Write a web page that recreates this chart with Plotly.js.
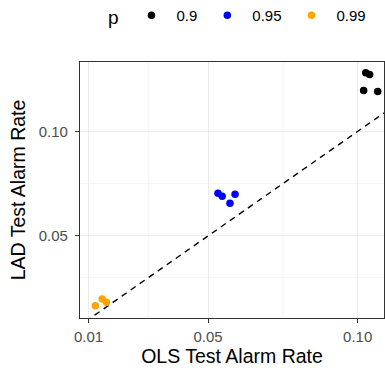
<!DOCTYPE html>
<html>
<head>
<meta charset="utf-8">
<script src="https://cdn.plot.ly/plotly-3.0.1.min.js"></script>
<style>html,body{margin:0;padding:0;background:#fff;}#chart{width:385px;height:368px;}</style>
</head>
<body>
<div id="chart"></div>
<script>
// Data
const groups = ["0.9", "0.95", "0.99"];
const colors = ["#000000", "#0000FF", "#FFA500"];
const olsP90 = [0.1027, 0.1040, 0.1020, 0.1067];
const ladP90 = [0.1280, 0.1272, 0.1196, 0.1191];
const olsP95 = [0.0533, 0.0547, 0.0573, 0.0590];
const ladP95 = [0.0704, 0.0690, 0.0656, 0.0699];
const olsP99 = [0.0123, 0.0146, 0.0160];
const ladP99 = [0.0166, 0.0198, 0.0182];
const refLineX = [0, 0.2];
const refLineY = [0, 0.2];
const xTicks = [0.01, 0.05, 0.10];
const xTickText = ["0.01", "0.05", "0.10"];
const yTicks = [0.05, 0.10];
const yTickText = ["0.05", "0.10"];
const xMinor = [0.03, 0.075];
const yMinor = [0.03, 0.075];

const xs = [olsP90, olsP95, olsP99];
const ys = [ladP90, ladP95, ladP99];

const traces = [{
  x: refLineX, y: refLineY, mode: "lines", type: "scatter",
  line: {color: "#000", width: 1.4, dash: "6px,5px"},
  showlegend: false, hoverinfo: "skip"
}];
groups.forEach((g, i) => {
  traces.push({
    x: xs[i], y: ys[i], mode: "markers", type: "scatter", name: g,
    marker: {color: colors[i], size: 7.5}
  });
});

const font = "Liberation Sans, Arial, Helvetica, sans-serif";
const gridShapes = [];
xMinor.forEach(v => gridShapes.push({type: "line", xref: "x", yref: "paper", x0: v, x1: v, y0: 0, y1: 1, line: {color: "#EBEBEB", width: 0.6}, layer: "below"}));
yMinor.forEach(v => gridShapes.push({type: "line", xref: "paper", yref: "y", x0: 0, x1: 1, y0: v, y1: v, line: {color: "#EBEBEB", width: 0.6}, layer: "below"}));

const layout = {
  width: 385, height: 368,
  margin: {l: 80, r: 1, t: 62, b: 50},
  paper_bgcolor: "#fff", plot_bgcolor: "#fff",
  font: {family: font, color: "#000"},
  showlegend: true,
  legend: {
    orientation: "h", xref: "container", yref: "container",
    x: 0.275, xanchor: "left", y: 0.955, yanchor: "middle",
    title: {text: "p", font: {size: 19, color: "#000"}, side: "left"},
    font: {size: 15, color: "#000"},
    itemwidth: 40
  },
  xaxis: {
    range: [0.00717, 0.1088], tickvals: xTicks, ticktext: xTickText,
    showgrid: true, gridcolor: "#EBEBEB", gridwidth: 1.1, zeroline: false,
    showline: true, mirror: true, linecolor: "#333333", linewidth: 1.1,
    ticks: "outside", ticklen: 4, tickcolor: "#333333", tickwidth: 1.1,
    ticklabelstandoff: 1,
    tickfont: {size: 15, color: "#4D4D4D"},
    title: {text: "OLS Test Alarm Rate", font: {size: 19.5, color: "#000"}, standoff: 2}
  },
  yaxis: {
    range: [0.0107, 0.1332], tickvals: yTicks, ticktext: yTickText,
    showgrid: true, gridcolor: "#EBEBEB", gridwidth: 1.1, zeroline: false,
    showline: true, mirror: true, linecolor: "#333333", linewidth: 1.1,
    ticks: "outside", ticklen: 4, tickcolor: "#333333", tickwidth: 1.1,
    ticklabelstandoff: 4,
    tickfont: {size: 15, color: "#4D4D4D"},
    title: {text: "LAD Test Alarm Rate", font: {size: 19.5, color: "#000"}, standoff: 7}
  },
  shapes: gridShapes
};

Plotly.newPlot("chart", traces, layout, {displayModeBar: false, staticPlot: true});
</script>
</body>
</html>
